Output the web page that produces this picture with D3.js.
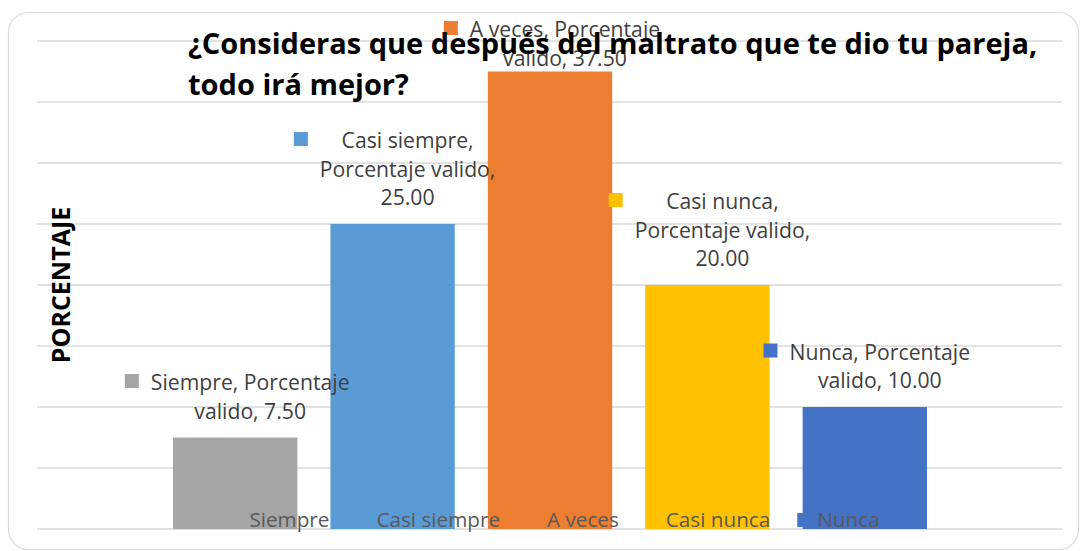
<!DOCTYPE html>
<html>
<head>
<meta charset="utf-8">
<script src="https://cdn.jsdelivr.net/npm/d3@7"></script>
<style>
  body { margin: 0; background: #fff; }
  svg { display: block; }
</style>
</head>
<body>
<div id="chart"></div>
<script>
// chart data
const categories = ['Siempre', 'Casi siempre', 'A veces', 'Casi nunca', 'Nunca'];
const values = [7.5, 25, 37.5, 20, 10];
const colors = ['#A5A5A5', '#5B9BD5', '#ED7D31', '#FFC000', '#4472C4'];
const seriesName = 'Porcentaje valido';
const yTicks = [0, 5, 10, 15, 20, 25, 30, 35, 40];
const titleLines = ['¿Consideras que después del maltrato que te dio tu pareja,', 'todo irá mejor?'];
const yTitle = 'PORCENTAJE';

(function() {
  const width = 1081;
  const height = 551;
  const font = '"Open Sans", sans-serif';

  const svg = d3.select('#chart')
    .append('svg')
    .attr('width', width)
    .attr('height', height);

  // outer frame
  svg.append('rect')
    .attr('x', 8.5).attr('y', 12.5)
    .attr('width', 1070).attr('height', 537)
    .attr('rx', 20)
    .attr('fill', '#fff')
    .attr('stroke', '#d9d9d9')
    .attr('stroke-width', 1.2);

  const x = d3.scaleBand()
    .domain(categories)
    .range([156.5, 943.5])
    .paddingInner(0.21)
    .paddingOuter(0.105);

  const y = d3.scaleLinear()
    .domain([0, 40])
    .range([529, 41]);

  // gridlines
  svg.append('g')
    .selectAll('line')
    .data(yTicks)
    .enter()
    .append('line')
    .attr('x1', 37).attr('x2', 1062)
    .attr('y1', d => y(d)).attr('y2', d => y(d))
    .attr('stroke', '#d9d9d9')
    .attr('stroke-width', 1.5);

  // bars
  svg.append('g')
    .selectAll('rect')
    .data(categories)
    .enter()
    .append('rect')
    .attr('x', d => x(d))
    .attr('y', (d, i) => y(values[i]))
    .attr('width', x.bandwidth())
    .attr('height', (d, i) => y(0) - y(values[i]))
    .attr('fill', (d, i) => colors[i]);

  // legend along the bottom (under the data labels, over the bars)
  const legend = svg.append('g');
  const items = legend.selectAll('g')
    .data(categories)
    .enter()
    .append('g');
  items.append('rect')
    .attr('width', 14).attr('height', 14)
    .attr('y', 513)
    .attr('fill', (d, i) => colors[i]);
  items.append('text')
    .attr('x', 20)
    .attr('y', 527)
    .attr('font-family', font)
    .attr('font-size', '20.7px')
    .attr('fill', '#595959')
    .text(d => d);

  const widths = [];
  items.select('text').each(function() { widths.push(this.getComputedTextLength()); });
  const gap = 27;
  const total = d3.sum(widths) + widths.length * 20 + gap * (widths.length - 1);
  let cx = 554.5 - total / 2;
  items.attr('transform', (d, i) => {
    const t = 'translate(' + cx + ',0)';
    cx += 20 + widths[i] + gap;
    return t;
  });

  // data labels
  const lineH = 28.5;
  const labelSize = 21.2;
  categories.forEach((cat, i) => {
    const val = values[i].toFixed(2);
    const lines = cat.length > 8
      ? [cat + ',', seriesName + ',', val]
      : [cat + ', Porcentaje', 'valido, ' + val];
    let first = y(values[i]) - 19 - lineH * (lines.length - 1);
    if (first < 37) first = 37;

    const g = svg.append('g');
    const texts = g.selectAll('text')
      .data(lines)
      .enter()
      .append('text')
      .attr('y', (d, k) => first + k * lineH)
      .attr('text-anchor', 'middle')
      .attr('font-family', font)
      .attr('font-size', labelSize + 'px')
      .attr('fill', '#404040')
      .text(d => d);

    let maxW = 0;
    texts.each(function() { maxW = Math.max(maxW, this.getComputedTextLength()); });
    const blockLeft = x(cat) + x.bandwidth() / 2 + 2 - (26 + maxW) / 2;
    const tc = blockLeft + 26 + maxW / 2;
    texts.attr('x', tc);

    g.append('rect')
      .attr('x', blockLeft)
      .attr('y', first - 16)
      .attr('width', 14).attr('height', 14)
      .attr('fill', colors[i]);
  });

  // title
  svg.append('text')
    .attr('font-family', font)
    .attr('font-size', '29px')
    .attr('font-weight', 'bold')
    .attr('fill', '#000')
    .selectAll('tspan')
    .data(titleLines)
    .enter()
    .append('tspan')
    .attr('x', 188)
    .attr('y', (d, i) => 54 + i * 41)
    .text(d => d);

  // y axis title
  svg.append('text')
    .attr('transform', 'translate(70,285) rotate(-90)')
    .attr('text-anchor', 'middle')
    .attr('font-family', font)
    .attr('font-size', '25px')
    .attr('font-weight', 'bold')
    .attr('fill', '#000')
    .text(yTitle);
})();
</script>
</body>
</html>
